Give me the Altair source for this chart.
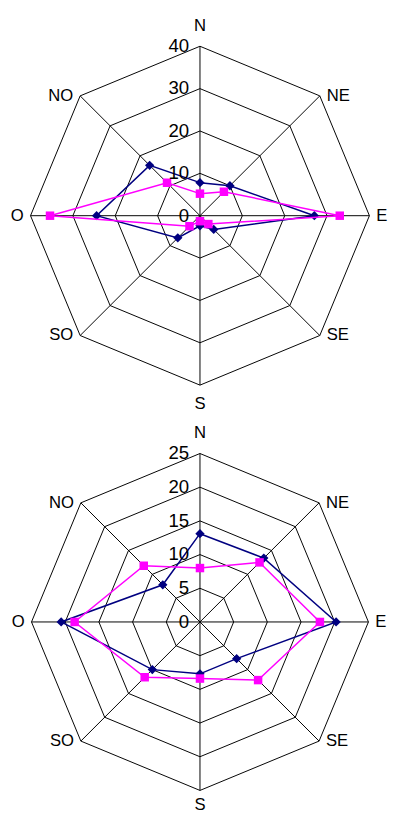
import altair as alt
import pandas as pd

directions = ["N", "NE", "E", "SE", "S", "SO", "O", "NO"]

top_blue = [7.8, 10.0, 27.0, 4.6, 2.4, 7.4, 24.4, 16.8]
top_pink = [5.2, 8.0, 33.0, 2.8, 1.3, 3.5, 35.4, 11.0]
top_ticks = [0, 10, 20, 30, 40]

bottom_blue = [13.1, 13.4, 20.2, 7.7, 7.7, 10.0, 20.6, 7.8]
bottom_pink = [8.0, 12.5, 17.8, 12.2, 8.4, 11.6, 18.6, 11.8]
bottom_ticks = [0, 5, 10, 15, 20, 25]

BLUE = "#000080"
PINK = "#FF00FF"
FONT = "Liberation Sans"
FS_DIR = 17
FS_TICK = 19
W = 389
CX = 196


def panel(blue, pink, ticks, k, H, above, s_dy):
    vmax = ticks[-1]
    xs = alt.Scale(domain=[-CX / k, (W - CX) / k], nice=False, zero=False)
    ys = alt.Scale(domain=[-(H - above) / k, above / k], nice=False, zero=False)
    X = lambda f: alt.X(f, type="quantitative", scale=xs, axis=None)
    Y = lambda f: alt.Y(f, type="quantitative", scale=ys, axis=None)

    calc = dict(
        px=f"datum.value / {vmax} * sin(datum.idx * PI / 4)",
        py=f"datum.value / {vmax} * cos(datum.idx * PI / 4)",
    )

    ring_rows = [{"ring": t, "idx": i % 8, "ord": i, "value": t}
                 for t in ticks[1:] for i in range(9)]
    rings = alt.Chart(pd.DataFrame(ring_rows)).transform_calculate(**calc).mark_line(
        color="black", strokeWidth=1
    ).encode(x=X("px"), y=Y("py"), detail="ring:N", order="ord:Q")

    spoke_df = pd.DataFrame({"idx": list(range(8)), "value": [vmax] * 8, "zero": [0] * 8})
    spokes = alt.Chart(spoke_df).transform_calculate(**calc).mark_rule(
        color="black", strokeWidth=1
    ).encode(x=X("zero"), y=Y("zero"), x2="px:Q", y2="py:Q")

    layers = [rings, spokes]
    for vals, color, shape, size in [(blue, BLUE, "diamond", 90), (pink, PINK, "square", 75)]:
        rows = [{"idx": i % 8, "ord": i, "value": vals[i % 8]} for i in range(9)]
        base = alt.Chart(pd.DataFrame(rows)).transform_calculate(**calc)
        layers.append(base.mark_line(color=color, strokeWidth=1.5).encode(
            x=X("px"), y=Y("py"), order="ord:Q"))
        layers.append(base.transform_filter("datum.ord < 8").mark_point(
            shape=shape, filled=True, color=color, size=size, opacity=1
        ).encode(x=X("px"), y=Y("py")))

    tdf = pd.DataFrame({"value": ticks, "idx": [0] * len(ticks),
                        "label": [str(t) for t in ticks]})
    layers.append(alt.Chart(tdf).transform_calculate(**calc).mark_text(
        align="right", baseline="middle", dx=-11, font=FONT, fontSize=FS_TICK, color="black"
    ).encode(x=X("px"), y=Y("py"), text="label:N"))

    ddf = pd.DataFrame({"label": directions, "idx": list(range(8)), "value": [vmax] * 8})
    dbase = alt.Chart(ddf).transform_calculate(**calc)
    groups = [
        (["N"], dict(align="center", dy=-21)),
        (["S"], dict(align="center", dy=s_dy)),
        (["NE", "E", "SE"], dict(align="left", dx=7)),
        (["NO", "O", "SO"], dict(align="right", dx=-7)),
    ]
    for labs, opts in groups:
        layers.append(dbase.transform_filter(
            alt.FieldOneOfPredicate(field="label", oneOf=labs)
        ).mark_text(baseline="middle", font=FONT, fontSize=FS_DIR, color="black", **opts).encode(
            x=X("px"), y=Y("py"), text="label:N"))

    return alt.layer(*layers).properties(width=W, height=H)


top = panel(top_blue, top_pink, top_ticks, 173.0, 403, 201.5, 19)
bottom = panel(bottom_blue, bottom_pink, bottom_ticks, 172.0, 410, 213.3, 15)

chart = alt.vconcat(top, bottom, spacing=0).resolve_scale(
    x="independent", y="independent"
).properties(padding=0).configure_view(stroke=None)

chart.save("out.html", embed_options={"renderer": "svg", "actions": False})
